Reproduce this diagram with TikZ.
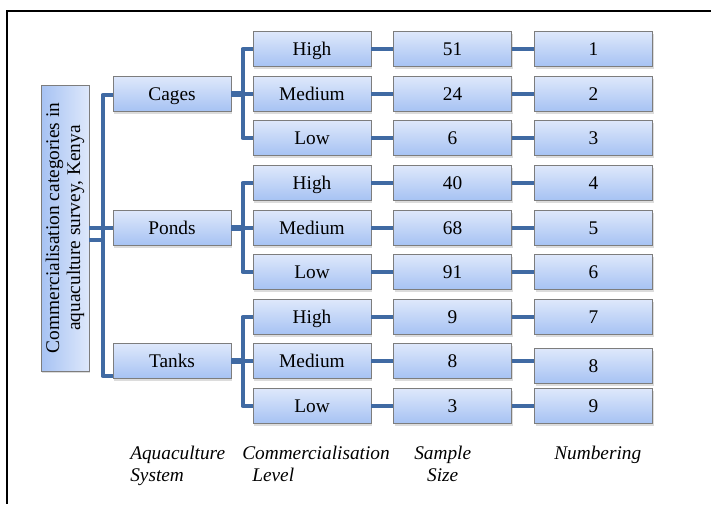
\documentclass[tikz,border=0pt]{standalone}
\usepackage{fontspec}
\setmainfont{Liberation Serif}
\usetikzlibrary{shadows,calc}
\definecolor{lineblue}{RGB}{64,106,163}
\definecolor{boxtop}{RGB}{222,232,251}
\definecolor{boxbot}{RGB}{166,194,243}
\definecolor{boxedge}{RGB}{125,125,125}
\begin{document}
\begin{tikzpicture}[x=0.75pt,y=-0.75pt,
  box/.style={draw=boxedge, line width=0.6pt, top color=boxtop, bottom color=boxbot,
    minimum width=88.5pt, minimum height=26.25pt, inner sep=0pt,
    text height=9.6pt, text depth=0pt,
    font=\fontsize{14.5}{16}\selectfont,
    drop shadow={opacity=0.28, shadow xshift=0.9pt, shadow yshift=-1.5pt}},
  rootbox/.style={draw=boxedge, line width=0.6pt,
    minimum width=214.5pt, minimum height=36pt, inner sep=0pt, align=center,
    font=\fontsize{14.5}{15.8}\selectfont,
    drop shadow={opacity=0.28, shadow xshift=0.9pt, shadow yshift=-1.5pt}},
  conn/.style={draw=lineblue, line width=3pt},
  thickconn/.style={draw=lineblue, line width=4.8pt},
  lab/.style={font=\fontsize{14.5}{16.5}\selectfont\itshape, inner sep=0pt}]
\useasboundingbox (0,0) rectangle (711,504);

% frame
\coordinate (ftl) at (7,11);
\coordinate (ftr) at (711,11);
\coordinate (fbl) at (7,504);
\draw[line width=1.6pt] (ftr) -- (ftl) -- (fbl);

% root
\node[rootbox, rotate=90, left color=boxbot, right color=boxtop] (root) at (65,228)
  {Commercialisation categories in\\aquaculture survey, Kenya};

% level 1
\node[box] (cages) at (172,94) {Cages};
\node[box] (ponds) at (172,228) {Ponds};
\node[box] (tanks) at (172,361) {Tanks};

% level 2
\foreach \n/\t/\y in {ch/High/49, cm/Medium/94, cl/Low/138,
                      ph/High/183, pm/Medium/228, pl/Low/272,
                      th/High/317, tm/Medium/361, tl/Low/406}
  \node[box] (\n) at (312,\y) {\t};

% sample sizes
\foreach \n/\t/\y in {s1/51/49, s2/24/94, s3/6/138,
                      s4/40/183, s5/68/228, s6/91/272,
                      s7/9/317, s8/8/361, s9/3/406}
  \node[box] (\n) at (452.5,\y) {\t};

% numbering
\foreach \n/\t/\y in {n1/1/49, n2/2/94, n3/3/138,
                      n4/4/183, n5/5/228, n6/6/272,
                      n7/7/317, n8/8/366, n9/9/406}
  \node[box] (\n) at (593.5,\y) {\t};

% root to level 1
\draw[conn] (root.south |- ponds.west) -- ++(16,0);
\draw[conn] ($(root.south |- ponds.west)+(0,12)$) -- ++(16,0);
\draw[conn, line join=round] ($(cages.west)+(0,1)$) -- ++(-10,0) |- ($(tanks.west)+(0,15)$);
\draw[conn] (ponds.west) -- ++(-10,0);

% level 1 to level 2
\foreach \p/\h/\m/\l in {cages/ch/cm/cl, ponds/ph/pm/pl, tanks/th/tm/tl}{
  \draw[conn, line join=round] (\h.west) -- ++(-10,0) |- (\l.west);
  \draw[thickconn] (\p.east) -- ++(12,0);
  \draw[conn] (\p.east) -- (\m.west);
}

% level 2 to sample, sample to numbering
\foreach \a/\b/\c in {ch/s1/n1, cm/s2/n2, cl/s3/n3, ph/s4/n4, pm/s5/n5,
                      pl/s6/n6, th/s7/n7, tm/s8/n8, tl/s9/n9}{
  \draw[conn] (\a.east) -- (\b.west);
  \draw[conn] (\b.east) -- (\b.east -| \c.west);
}

% column labels (base anchor = baseline of last line)
\node[lab, anchor=base west, align=left] (labA) at (130,481) {Aquaculture\\System};
\node[lab, anchor=base west, align=left] (labC) at (242,481) {Commercialisation\\\hspace*{7.5pt}Level};
\node[lab, anchor=base west, align=center] (labS) at (414,481) {Sample\\Size};
\node[lab, anchor=base west, align=left] (labN) at (554,459) {Numbering};
\end{tikzpicture}
\end{document}
